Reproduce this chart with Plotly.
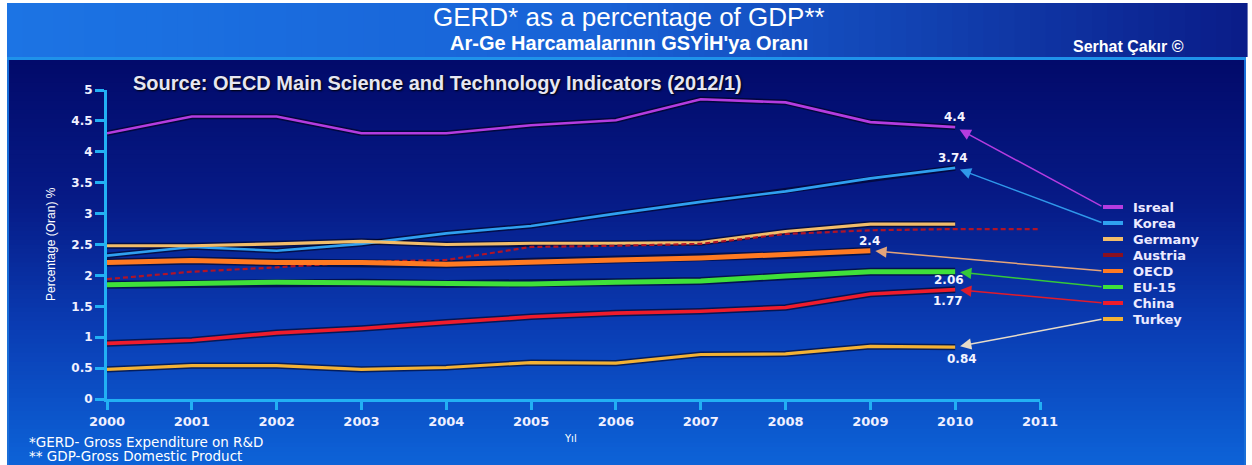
import plotly.graph_objects as go

# ---------------- data ----------------
years = [2000, 2001, 2002, 2003, 2004, 2005, 2006, 2007, 2008, 2009, 2010]
years_austria = [2000, 2001, 2002, 2003, 2004, 2005, 2006, 2007, 2008, 2009, 2010, 2011]
years_oecd = [2000, 2001, 2002, 2003, 2004, 2005, 2006, 2007, 2008, 2009]

israel = [4.30, 4.57, 4.57, 4.30, 4.30, 4.43, 4.51, 4.85, 4.80, 4.48, 4.40]
korea = [2.32, 2.46, 2.40, 2.51, 2.68, 2.80, 3.00, 3.19, 3.36, 3.57, 3.74]
germany = [2.48, 2.48, 2.51, 2.55, 2.50, 2.52, 2.52, 2.53, 2.71, 2.83, 2.83]
austria = [1.94, 2.06, 2.13, 2.22, 2.25, 2.46, 2.48, 2.51, 2.67, 2.73, 2.75, 2.75]
oecd = [2.21, 2.24, 2.21, 2.21, 2.18, 2.22, 2.25, 2.28, 2.33, 2.40]
eu15 = [1.85, 1.87, 1.89, 1.88, 1.86, 1.86, 1.89, 1.91, 1.99, 2.06, 2.06]
china = [0.90, 0.95, 1.07, 1.14, 1.24, 1.33, 1.39, 1.42, 1.48, 1.70, 1.77]
turkey = [0.48, 0.54, 0.54, 0.48, 0.51, 0.59, 0.58, 0.72, 0.73, 0.85, 0.84]

series_names = ["Isreal", "Korea", "Germany", "Austria", "OECD", "EU-15", "China", "Turkey"]
value_labels = ["4.4", "3.74", "2.4", "2.06", "1.77", "0.84"]

x_ticks = list(range(2000, 2012))
y_ticks = [0, 0.5, 1, 1.5, 2, 2.5, 3, 3.5, 4, 4.5, 5]
y_tick_text = ["0", "0.5", "1", "1.5", "2", "2.5", "3", "3.5", "4", "4.5", "5"]

# ---------------- layout geometry (pixels) ----------------
W, H = 1252, 465
PL, PR, PT, PB = 107, 1040, 90, 399
XMIN, XMAX, YMIN, YMAX = 2000, 2011, 0, 5


def fx(px):
    return (px - PL) / (PR - PL)


def fy(py):
    return (PB - py) / (PB - PT)


def hexmix(c1, c2, t):
    a = [int(c1[i:i + 2], 16) for i in (1, 3, 5)]
    b = [int(c2[i:i + 2], 16) for i in (1, 3, 5)]
    return "#" + "".join("%02x" % round(a[k] + (b[k] - a[k]) * t) for k in range(3))


def grad(stops, v):
    for (p0, c0), (p1, c1) in zip(stops, stops[1:]):
        if p0 <= v <= p1:
            return hexmix(c0, c1, (v - p0) / (p1 - p0) if p1 > p0 else 0)
    return stops[-1][1]


shapes = []
# header band (horizontal gradient)
hstops = [(7, "#1c74e4"), (600, "#1862d6"), (900, "#1244b4"), (1247, "#0a1c88")]
n = 80
for i in range(n):
    x0 = 7 + (1247 - 7) * i / n
    x1 = 7 + (1247 - 7) * (i + 1) / n + 0.6
    shapes.append(dict(type="rect", xref="paper", yref="paper", layer="below",
                       x0=fx(x0), x1=fx(x1), y0=fy(57), y1=fy(3),
                       fillcolor=grad(hstops, (x0 + x1) / 2), line_width=0))
# main panel (vertical gradient)
vstops = [(60, "#020a6a"), (200, "#061a86"), (330, "#0a3db4"), (465, "#0d63d8")]
n = 90
for i in range(n):
    y0 = 60 + (465 - 60) * i / n
    y1 = 60 + (465 - 60) * (i + 1) / n + 0.6
    shapes.append(dict(type="rect", xref="paper", yref="paper", layer="below",
                       x0=fx(7), x1=fx(1246), y0=fy(y1), y1=fy(y0),
                       fillcolor=grad(vstops, (y0 + y1) / 2), line_width=0))
# separator line under header and thin side borders
shapes.append(dict(type="rect", xref="paper", yref="paper", layer="below",
                   x0=fx(7), x1=fx(1246), y0=fy(60), y1=fy(57),
                   fillcolor="#1f92ea", line_width=0))
for bx in (7, 1244):
    shapes.append(dict(type="rect", xref="paper", yref="paper", layer="below",
                       x0=fx(bx), x1=fx(bx + 2), y0=fy(465), y1=fy(60),
                       fillcolor="#1a6fd8", line_width=0))

fig = go.Figure()

styles = [
    # name, x, y, color, width, dash
    ("Isreal", years, israel, "#b43ce0", 2.6, "solid"),
    ("Korea", years, korea, "#2fa0f0", 2.6, "solid"),
    ("Germany", years, germany, "#f2bd6a", 3.2, "solid"),
    ("Austria", years_austria, austria, "#b01428", 2.2, "5px,3px"),
    ("OECD", years_oecd, oecd, "#ff7a22", 5.0, "solid"),
    ("EU-15", years, eu15, "#3fe03a", 5.0, "solid"),
    ("China", years, china, "#ee1c2c", 3.6, "solid"),
    ("Turkey", years, turkey, "#f3b235", 3.2, "solid"),
]

# dark under-strokes (shadow look)
for name, xs, ys, col, w, dash in styles:
    if dash == "solid":
        fig.add_trace(go.Scatter(x=xs, y=ys, mode="lines", hoverinfo="skip",
                                 line=dict(color="rgba(0,0,25,0.6)", width=w + 3),
                                 showlegend=False))
for name, xs, ys, col, w, dash in styles:
    fig.add_trace(go.Scatter(x=xs, y=ys, mode="lines", name=name,
                             line=dict(color=col, width=w, dash=dash),
                             showlegend=False))

# ---------------- custom legend ----------------
legend_py = [207, 223, 239, 255, 271, 287, 303, 319]
legend_cols = ["#b43ce0", "#2fa0f0", "#f2bd6a", "#8a1020", "#ff7a22", "#3fe03a", "#ee1c2c", "#f3b235"]
annotations = []
for name, py, col in zip(series_names, legend_py, legend_cols):
    shapes.append(dict(type="line", xref="paper", yref="paper",
                       x0=fx(1103), x1=fx(1123), y0=fy(py), y1=fy(py),
                       line=dict(color=col, width=4)))
    annotations.append(dict(xref="paper", yref="paper", x=fx(1131), y=fy(py),
                            xanchor="left", yanchor="middle", showarrow=False,
                            text=name,
                            font=dict(family="DejaVu Sans", size=13, color="#eceaff",
                                      weight="bold")))

# leader arrows from legend to the last data point
leaders = [
    (years[-1], israel[-1], legend_py[0], "#b43ce0"),
    (years[-1], korea[-1], legend_py[1], "#2f98ea"),
    (years_oecd[-1], oecd[-1], legend_py[4], "#e4a47a"),
    (years[-1], eu15[-1], legend_py[5], "#36c83a"),
    (years[-1], china[-1], legend_py[6], "#e01c2c"),
    (years[-1], turkey[-1], legend_py[7], "#e8dcc8"),
]
ax_data = XMIN + fx(1103) * (XMAX - XMIN)
for xv, yv, lpy, col in leaders:
    annotations.append(dict(x=xv, y=yv, xref="x", yref="y",
                            ax=ax_data, ay=YMIN + fy(lpy) * (YMAX - YMIN),
                            axref="x", ayref="y", text="", showarrow=True,
                            arrowhead=2, arrowsize=1.5, arrowwidth=1.5,
                            arrowcolor=col, standoff=5))

# value labels
label_pos = [(954, 117), (953, 158), (869, 241), (949, 280), (948, 301), (962, 359)]
for txt, (px, py) in zip(value_labels, label_pos):
    annotations.append(dict(xref="paper", yref="paper", x=fx(px), y=fy(py),
                            xanchor="center", yanchor="middle", showarrow=False, text=txt,
                            font=dict(family="DejaVu Sans", size=12, color="#f4f4ff",
                                      weight="bold")))

# titles and notes
annotations += [
    dict(xref="paper", yref="paper", x=fx(629), y=fy(17), xanchor="center", yanchor="middle",
         showarrow=False, text="GERD* as a percentage of GDP**",
         font=dict(family="Liberation Sans", size=26, color="#ffffff")),
    dict(xref="paper", yref="paper", x=fx(629), y=fy(43), xanchor="center", yanchor="middle",
         showarrow=False, text="Ar-Ge Harcamalarının GSYİH'ya Oranı",
         font=dict(family="Liberation Sans", size=20, color="#ffffff", weight="bold")),
    dict(xref="paper", yref="paper", x=fx(1128), y=fy(47), xanchor="center", yanchor="middle",
         showarrow=False, text="Serhat Çakır ©",
         font=dict(family="Liberation Sans", size=16, color="#ffffff", weight="bold")),
    dict(xref="paper", yref="paper", x=fx(131), y=fy(83), xanchor="left", yanchor="middle",
         showarrow=False, text="Source: OECD Main Science and Technology Indicators (2012/1)",
         font=dict(family="Liberation Sans", size=20, color="#e6e6f2", weight="bold",
                   shadow="1px 1px 2px #000000")),
    dict(xref="paper", yref="paper", x=fx(51), y=fy(244), xanchor="center", yanchor="middle",
         showarrow=False, text="Percentage (Oran) %", textangle=-90,
         font=dict(family="Liberation Sans", size=12, color="#ffffff")),
    dict(xref="paper", yref="paper", x=fx(570), y=fy(438), xanchor="center", yanchor="middle",
         showarrow=False, text="Yıl",
         font=dict(family="DejaVu Sans", size=10, color="#ffffff")),
    dict(xref="paper", yref="paper", x=fx(27), y=fy(442), xanchor="left", yanchor="middle",
         showarrow=False, text="*GERD- Gross Expenditure on R&amp;D",
         font=dict(family="DejaVu Sans", size=13.5, color="#ffffff")),
    dict(xref="paper", yref="paper", x=fx(27), y=fy(456), xanchor="left", yanchor="middle",
         showarrow=False, text="** GDP-Gross Domestic Product",
         font=dict(family="DejaVu Sans", size=13.5, color="#ffffff")),
]

axis_col = "#22b0f4"
fig.update_layout(
    width=W, height=H,
    margin=dict(l=PL, r=W - PR, t=PT, b=H - PB, pad=0),
    paper_bgcolor="#ffffff", plot_bgcolor="rgba(0,0,0,0)",
    shapes=shapes, annotations=annotations, showlegend=False,
    xaxis=dict(range=[XMIN, XMAX], tickvals=x_ticks, ticktext=[str(v) for v in x_ticks],
               showgrid=False, zeroline=False, showline=True, linecolor=axis_col, linewidth=3,
               ticks="outside", ticklen=8, tickwidth=3, tickcolor=axis_col,
               tickfont=dict(family="DejaVu Sans", size=13, color="#f0f0ff", weight="bold"),
               fixedrange=True),
    yaxis=dict(range=[YMIN, YMAX], tickvals=y_ticks, ticktext=y_tick_text,
               showgrid=False, zeroline=False, showline=True, linecolor=axis_col, linewidth=3,
               ticks="outside", ticklen=9, tickwidth=3, tickcolor=axis_col,
               tickfont=dict(family="DejaVu Sans", size=12, color="#f0f0ff", weight="bold"),
               fixedrange=True),
)

fig.write_html("out.html")
